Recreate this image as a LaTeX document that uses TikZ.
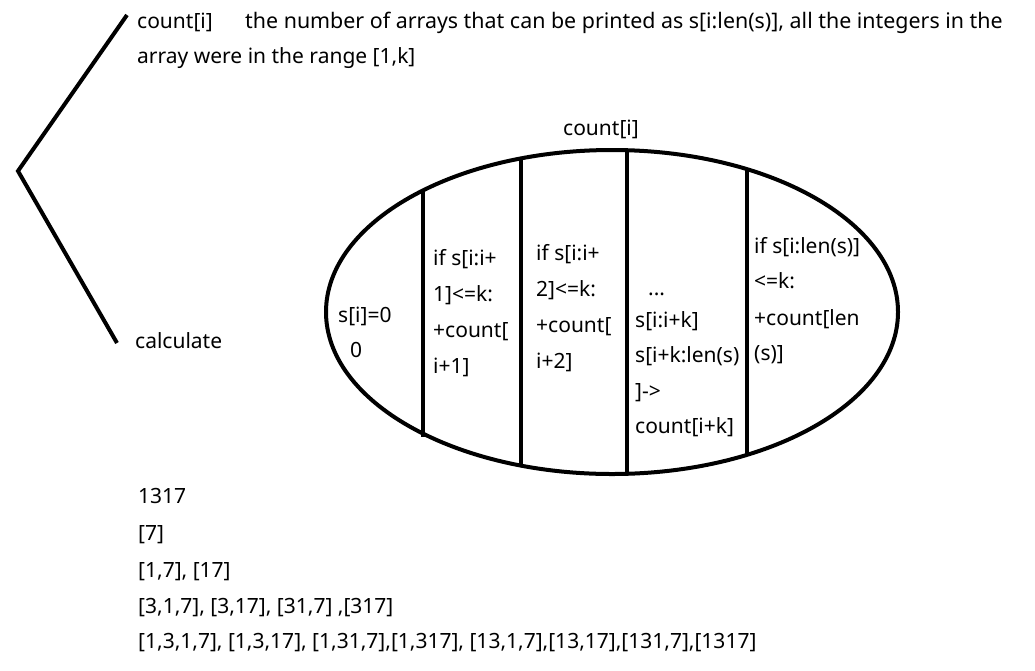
\documentclass[tikz,border=0pt]{standalone}
\usepackage{fontspec}
\setmainfont{Noto Sans}
\usetikzlibrary{shapes.geometric}
\begin{document}
\begin{tikzpicture}[x=1pt,y=-1pt,
  txt/.style={anchor=base west,inner sep=0pt,font=\fontsize{21}{25}\selectfont},
  wide/.style={font=\fontsize{21.4}{25}\selectfont},
  thick line/.style={line width=4pt},
  divider/.style={line width=4.5pt}]
\useasboundingbox (0,0) rectangle (1035,670);
% bracket
\coordinate (btop) at (127,15);
\coordinate (bmid) at (18,171);
\coordinate (bbot) at (117,343);
\draw[thick line,line join=miter] (btop) -- (bmid) -- (bbot);
% header text
\node[txt] (c1) at (137,28) {count[i]};
\node[txt,wide] (desc1) at (245,28) {the number of arrays that can be printed as s[i:len(s)], all the integers in the};
\node[txt] (desc2) at (137,63) {array were in the range [1,k]};
\node[txt] (calc) at (135,348) {calculate};
% ellipse
\node[draw,thick line,ellipse,minimum width=572pt,minimum height=324pt,inner sep=0pt] (ell) at (612,312) {};
\node[txt] (ctop) at (563,135) {count[i]};
% dividers
\draw[divider] (423,190) -- (423,437);
\draw[divider] (521,158) -- (521,466);
\draw[divider] (627,150) -- (627,474);
\draw[divider] (747,168) -- (747,455);
% cell 0
\node[txt] (a1) at (338,322) {s[i]=0};
\node[txt] (a2) at (350,357) {0};
% cell 1
\node[txt] (b1) at (433,265) {if s[i:i+};
\node[txt] (b2) at (433,301) {1]<=k:};
\node[txt] (b3) at (433,337) {+count[};
\node[txt] (b4) at (433,373) {i+1]};
% cell 2
\node[txt] (d1) at (536,260) {if s[i:i+};
\node[txt] (d2) at (536,296) {2]<=k:};
\node[txt] (d3) at (536,332) {+count[};
\node[txt] (d4) at (536,368) {i+2]};
% cell 3
\node[txt] (e0) at (648,295) {...};
\node[txt] (e1) at (635,327) {s[i:i+k]};
\node[txt] (e2) at (635,362) {s[i+k:len(s)};
\node[txt] (e3) at (635,398) {]->};
\node[txt] (e4) at (635,433) {count[i+k]};
% cell 4
\node[txt] (f1) at (754,253) {if s[i:len(s)]};
\node[txt] (f2) at (754,288) {<=k:};
\node[txt] (f3) at (754,325) {+count[len};
\node[txt] (f4) at (754,360) {(s)]};
% list
\node[txt] (l1) at (138,503) {1317};
\node[txt] (l2) at (138,540) {[7]};
\node[txt] (l3) at (138,577) {[1,7], [17]};
\node[txt] (l4) at (138,613) {[3,1,7], [3,17], [31,7] ,[317]};
\node[txt] (l5) at (138,648) {[1,3,1,7], [1,3,17], [1,31,7],[1,317], [13,1,7],[13,17],[131,7],[1317]};
\end{tikzpicture}
\end{document}
